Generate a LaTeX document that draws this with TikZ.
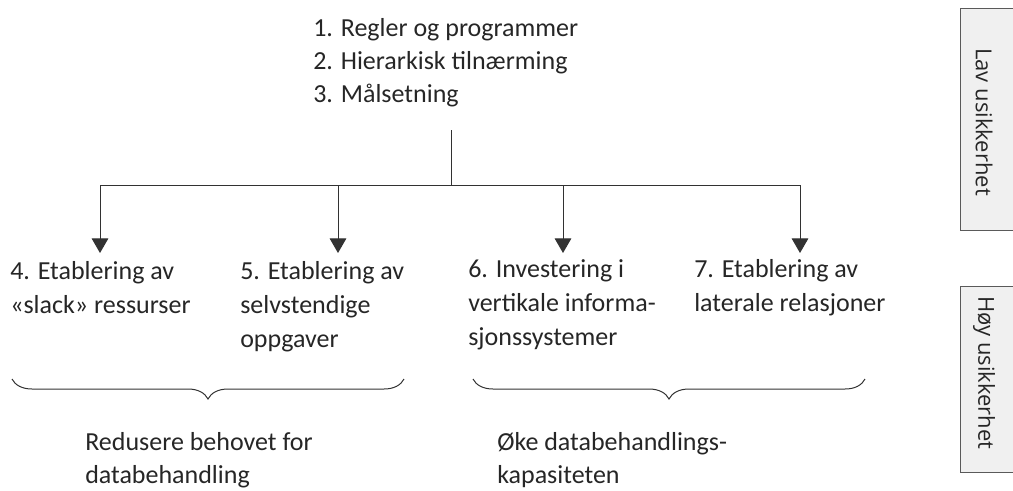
\documentclass[tikz,border=0pt]{standalone}
\usepackage{fontspec}
\setmainfont{Carlito}
\newfontfamily\boxfont{Open Sans}
\usetikzlibrary{arrows.meta,positioning,decorations.pathreplacing}
\definecolor{linegray}{RGB}{50,50,50}
\definecolor{textgray}{RGB}{38,38,38}
\definecolor{boxfill}{RGB}{240,240,240}
\definecolor{boxline}{RGB}{90,90,90}

\begin{document}
\begin{tikzpicture}[
    x=0.75pt, y=-0.75pt,
    item/.style={anchor=base west, inner sep=0pt, align=left, text=textgray, font=\fontsize{19.5}{25.5}\selectfont},
    arrow/.style={-{Triangle[width=12.5pt,length=11pt]}, line width=0.75pt, linegray},
    bus/.style={line width=0.75pt, linegray},
    brace/.style={decorate, decoration={brace, mirror, amplitude=15pt}, line width=0.75pt, linegray},
    ubox/.style={rectangle, draw=boxline, fill=boxfill, line width=0.75pt, rotate=-90, minimum height=45pt},
    utext/.style={rotate=-90, inner sep=0pt, text=textgray, font=\boxfont\fontsize{16.5}{19}\selectfont},
]
\useasboundingbox (0,0) rectangle (1013,490);
\clip (0,0) rectangle (1013,490);

% Coordination mechanisms (base = last line)
\node[item, font=\fontsize{19.5}{24.5}\selectfont] (reg) at (313,102) {1. Regler og programmer\\2. Hierarkisk tilnærming\\3. Målsetning};

\node[item] (slack) at (10,313) {4. Etablering av\\«slack» ressurser};
\node[item] (selv) at (240,347) {5. Etablering av\\selvstendige\\oppgaver};
\node[item] (vert) at (468,345) {6. Investering i\\vertikale informa-\\sjonssystemer};
\node[item] (lat) at (694,311) {7. Etablering av\\laterale relasjoner};

% Bus and arrows
\coordinate (top) at (451,130);
\coordinate (mid) at (451,185);
\coordinate (bl) at (100,185);
\coordinate (br) at (800,185);
\foreach \n/\x in {a/100, b/338, c/563, d/800} {
    \coordinate (\n up) at (\x,185);
    \coordinate (\n down) at (\x,253);
}
\draw[bus] (top) -- (mid);
\draw[bus] (bl) -- (br);
\foreach \n in {a,b,c,d}
    \draw[arrow] (\n up) -- (\n down);

% Braces
\coordinate (lbs) at (12,379);
\coordinate (lbe) at (404,379);
\coordinate (rbs) at (473,379);
\coordinate (rbe) at (865,379);
\draw[brace] (lbs) -- (lbe);
\draw[brace] (rbs) -- (rbe);

\node[item, font=\fontsize{19.5}{24.5}\selectfont] (redus) at (85,483) {Redusere behovet for\\databehandling};
\node[item, font=\fontsize{19.5}{24.5}\selectfont] (oke) at (497,483) {Øke databehandlings-\\kapasiteten};

% Uncertainty
\node[ubox, minimum width=166.5pt] (lav) at (990,119) {};
\node[utext] (lavtext) at (984,122) {Lav usikkerhet};
\node[ubox, minimum width=139.5pt] (hoy) at (990,379) {};
\node[utext] (hoytext) at (984,373) {Høy usikkerhet};
\end{tikzpicture}
\end{document}
